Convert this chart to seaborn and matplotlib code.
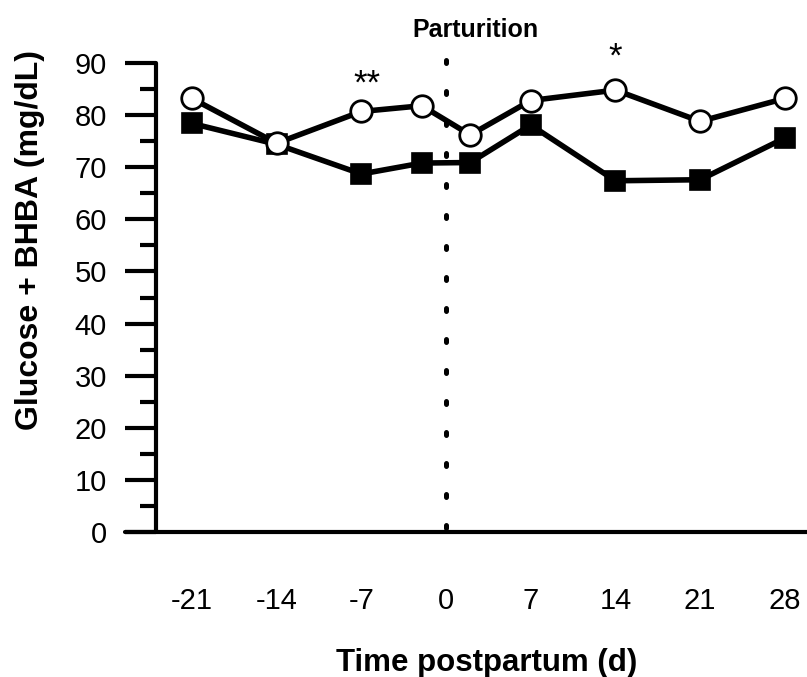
import matplotlib
matplotlib.use("Agg")
import matplotlib.pyplot as plt
from matplotlib.ticker import MultipleLocator
import seaborn as sns
import pandas as pd

sns.set_style("white")
plt.rcParams["font.family"] = ["Liberation Sans", "DejaVu Sans"]
plt.rcParams.update({"text.color": "black", "axes.labelcolor": "black",
                     "xtick.color": "black", "ytick.color": "black"})

# Sampling days relative to parturition
days = [-21, -14, -7, -2, 2, 7, 14, 21, 28]
# Glucose + BHBA (mg/dL) for the two groups
open_group = [83.2, 74.6, 80.7, 81.8, 76.2, 82.8, 84.8, 78.8, 83.2]
filled_group = [78.4, 74.4, 68.7, 70.8, 70.9, 78.1, 67.4, 67.6, 75.6]
xtick_days = [-21, -14, -7, 0, 7, 14, 21, 28]
sig_days = [-6.5, 14]
sig_marks = ["**", "*"]
sig_heights = [84.1, 89.3]

df = pd.DataFrame({"day": days, "open": open_group, "filled": filled_group})

W, H = 807, 677
fig = plt.figure(figsize=(W / 100, H / 100), dpi=100)
ax = fig.add_axes([125 / W, (H - 532) / H, 1 - 125 / W, (532 - 63) / H])

lw_line = 4.0
# parturition marker line
ax.plot([0, 0], [0.8, 91], color="black", lw=3.6, ls=(0, (0.6, 5.6)),
        dash_capstyle="round", clip_on=False, zorder=1)

sns.lineplot(data=df, x="day", y="filled", ax=ax, color="black", lw=lw_line,
             marker="s", markersize=14.5, markerfacecolor="black",
             markeredgecolor="black", markeredgewidth=1.2, clip_on=False,
             zorder=3)
sns.lineplot(data=df, x="day", y="open", ax=ax, color="black", lw=lw_line,
             marker="o", markersize=15.5, markerfacecolor="white",
             markeredgecolor="black", markeredgewidth=2.0, clip_on=False,
             zorder=4)

ax.set_xlim(-26.53, 29.83)
ax.set_ylim(0, 90)

for d, m, h in zip(sig_days, sig_marks, sig_heights):
    ax.text(d, h, m, ha="center", va="baseline", fontsize=25, color="black")

# axes styling
for s in ["top", "right"]:
    ax.spines[s].set_visible(False)
ax.spines["left"].set_position(("data", -23.97))
ax.spines["left"].set_bounds(0, 90)
for s in ["left", "bottom"]:
    ax.spines[s].set_linewidth(3.0)
    ax.spines[s].set_color("black")
    ax.spines[s].set_capstyle("round")

ax.set_xticks(xtick_days)
ax.set_xticklabels([str(v) for v in xtick_days])
ax.yaxis.set_major_locator(MultipleLocator(10))
ax.yaxis.set_minor_locator(MultipleLocator(5))
ax.tick_params(axis="x", which="major", direction="out", length=22.3,
               width=3.0, pad=17, labelsize=21, color="black")
ax.tick_params(axis="y", which="major", direction="out", length=22.3,
               width=3.0, pad=13, labelsize=21, color="black", left=True)
ax.tick_params(axis="y", which="minor", direction="out", length=11.5,
               width=3.0, color="black", left=True)
ax.set_xlabel("")
ax.set_ylabel("")
ax.grid(False)

fig.text(30 / W, 1 - 240 / H, "Glucose + BHBA (mg/dL)", rotation=90,
         ha="center", va="center", fontsize=23, fontweight="bold")
fig.text(487 / W, 1 - 663 / H, "Time postpartum (d)", ha="center",
         va="center", fontsize=22.5, fontweight="bold")
fig.text(475 / W, 1 - 30 / H, "Parturition", ha="center", va="center",
         fontsize=18, fontweight="bold")

fig.savefig("out.png", dpi=100, facecolor="white")
